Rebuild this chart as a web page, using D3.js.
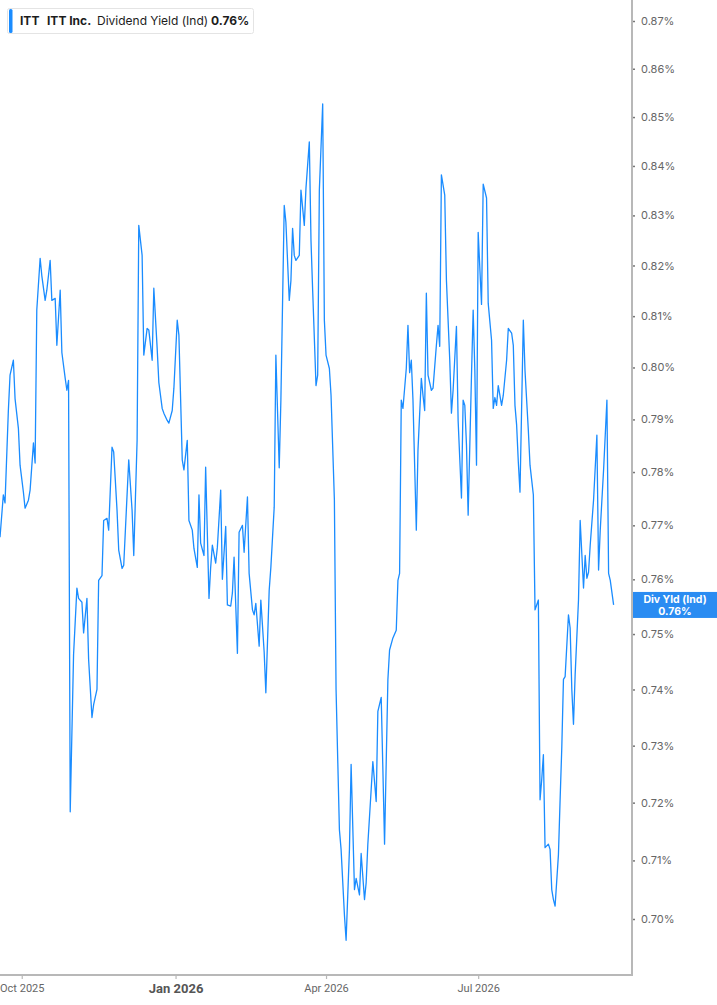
<!DOCTYPE html>
<html><head><meta charset="utf-8">
<script src="https://cdn.jsdelivr.net/npm/d3@7"></script>
<style>
body{margin:0;background:#fff;}
svg{display:block;font-family:Inter, Roboto, "Noto Sans", sans-serif;}
</style>
</head><body>
<svg id="chart" width="717" height="1005"></svg>
<script>
// ---- data ----
const ticker = "ITT";
const companyName = "ITT Inc.";
const seriesName = "Dividend Yield (Ind)";
const shortName = "Div Yld (Ind)";
const startDate = "2025-09-18";
const endDate = "2026-10-01";
// observation dates, in days since startDate
const daysSinceStart = [
  0,2,3,5,6,8,9,11,12,14,15,17,18,20,21,22,24,25,27,28,30,31,33,34,36,37,39,40,41,
  42,44,46,47,49,50,52,53,55,56,58,59,61,62,64,65,67,68,70,71,73,74,76,77,79,80,82,
  83,85,86,88,89,91,92,94,95,97,98,100,101,103,104,106,107,
  109,110,112,113,115,116,118,119,120,122,123,125,126,127,129,130,132,133,135,136,138,139,140,142,
  143,145,146,148,149,151,152,153,155,156,158,159,161,162,164,165,167,168,170,
  171,173,174,175,176,177,179,180,182,183,185,186,187,189,190,191,193,194,195,197,198,200,201,203,204,206,207,
  209,210,212,213,214,215,216,218,219,220,222,223,225,226,228,229,230,232,233,235,237,238,239,240,
  241,243,244,245,246,247,249,250,252,253,254,255,256,258,259,261,262,263,264,266,267,269,270,271,273,274,276,277,278,279,280,
  282,283,284,285,286,288,289,291,292,294,295,296,297,298,300,301,303,304,306,307,308,309,310,311,313,314,316,317,319,320,
  322,323,324,325,326,328,329,330,331,332,334,335,336,337,338,340,341,342,343,344,346,347,349,350,351,352,353,355,357,358,359,361,363,364,365,367
];
// dividend yield, % (one value per observation date)
const yieldValues = [
  0.7678,0.7757,0.7742,0.7917,0.7985,0.8014,0.7940,0.7883,0.7813,0.7762,
  0.7732,0.7747,0.7766,0.7855,0.7817,0.8112,0.8214,0.8180,0.8131,0.8151,
  0.8210,0.8131,0.8135,0.8043,0.8151,0.8029,0.7979,0.7956,0.7975,0.7184,
  0.7463,0.7584,0.7565,0.7558,0.7502,0.7565,0.7454,0.7350,0.7373,0.7400,
  0.7598,0.7607,0.7709,0.7713,0.7691,0.7847,0.7838,0.7728,0.7654,0.7620,
  0.7626,0.7757,0.7823,0.7728,0.7644,0.7860,0.8280,0.8220,0.8024,0.8076,
  0.8073,0.8014,0.8155,0.8037,0.7971,0.7921,0.7912,0.7898,0.7893,0.7917,
  0.7960,0.8092,0.8063,0.7823,0.7804,0.7860,0.7709,0.7691,0.7657,0.7622,
  0.7757,0.7667,0.7644,0.7809,0.7565,0.7622,0.7663,0.7630,0.7659,0.7766,
  0.7600,0.7698,0.7553,0.7551,0.7575,0.7641,0.7465,0.7687,0.7700,0.7650,
  0.7753,0.7611,0.7544,0.7535,0.7556,0.7478,0.7562,0.7467,0.7394,0.7580,
  0.7622,0.7734,0.8024,0.7808,0.7937,0.8320,0.8286,0.8131,0.8170,0.8274,
  0.8220,0.8210,0.8220,0.8351,0.8280,0.8355,0.8449,0.8250,0.8151,0.7965,
  0.7985,0.8351,0.8527,0.8092,0.8024,0.7998,0.7946,0.7747,0.7400,0.7153,
  0.7119,0.7007,0.6964,0.7119,0.7267,0.7050,0.7069,0.7055,0.7041,0.7112,
  0.7033,0.7062,0.7128,0.7223,0.7272,0.7202,0.7361,0.7386,0.7258,0.7128,
  0.7418,0.7471,0.7493,0.7507,0.7598,0.7611,0.7937,0.7921,0.7998,0.8082,
  0.7990,0.8014,0.7937,0.7691,0.7842,0.7979,0.7946,0.7917,0.8145,0.7985,
  0.7956,0.7960,0.8043,0.8082,0.8041,0.8382,0.8341,0.8171,0.8014,0.7912,
  0.7956,0.8080,0.7898,0.7751,0.7937,0.7927,0.7851,0.7719,0.7985,0.8112,
  0.7994,0.7813,0.8266,0.8123,0.8363,0.8335,0.8125,0.8053,0.7921,0.7942,
  0.7927,0.7965,0.7927,0.7946,0.8014,0.8076,0.8067,0.8043,0.7927,0.7889,
  0.7819,0.7762,0.8092,0.7994,0.7879,0.7813,0.7757,0.7544,0.7562,0.7205,
  0.7240,0.7284,0.7122,0.7128,0.7119,0.7050,0.7033,0.7022,0.7110,0.7205,
  0.7296,0.7418,0.7423,0.7535,0.7511,0.7400,0.7338,0.7427,0.7562,0.7709,
  0.7584,0.7644,0.7602,0.7613,0.7663,0.7747,0.7870,0.7617,0.7691,0.7804,
  0.7937,0.7611,0.7598,0.7553
];
const yTickValues = [0.70,0.71,0.72,0.73,0.74,0.75,0.76,0.77,0.78,0.79,0.80,0.81,0.82,0.83,0.84,0.85,0.86,0.87];
const xTickDates = ["2025-10-01","2026-01-01","2026-04-01","2026-07-01"];
const xTickLabels = ["Oct 2025","Jan 2026","Apr 2026","Jul 2026"];
const boldXTick = "Jan 2026";

const parse = d3.utcParse("%Y-%m-%d");
const fmtISO = d3.utcFormat("%Y-%m-%d");
const t0 = parse(startDate);
const data = yieldValues.map((v, i) => ({date: d3.utcDay.offset(t0, daysSinceStart[i]), v}));

// ---- layout ----
const W = 717, H = 1005;
const plotRight = 632, plotBottom = 975;
const axisColor = "#b8b8b8";
const lineColor = "#1a8cff";
const svg = d3.select("#chart");

const x = d3.scaleUtc().domain([t0, parse(endDate)]).range([0, plotRight]);
const y = d3.scaleLog().domain([0.70, 0.87]).range([919, 21]);

// line
svg.append("path")
  .datum(data)
  .attr("fill", "none")
  .attr("stroke", lineColor)
  .attr("stroke-width", 1.3)
  .attr("stroke-linejoin", "round")
  .attr("d", d3.line().x(d => x(d.date)).y(d => y(d.v)));

// right axis
const yAxis = svg.append("g")
  .attr("transform", `translate(${plotRight},0)`)
  .call(d3.axisRight(y).tickValues(yTickValues).tickFormat(d => d.toFixed(2) + "%").tickSize(3).tickPadding(6));
yAxis.select(".domain").remove();
yAxis.selectAll(".tick line").attr("stroke", "#777").attr("stroke-width", 1.5);
yAxis.selectAll(".tick text").attr("fill", "#666").style("font-size", "11px").style("font-family", "Inter, Roboto, sans-serif");

// bottom axis
const isBold = d => xTickLabels[xTickDates.indexOf(fmtISO(d))] === boldXTick;
const xAxis = svg.append("g")
  .attr("transform", `translate(0,${plotBottom})`)
  .call(d3.axisBottom(x).tickValues(xTickDates.map(parse))
    .tickFormat(d => xTickLabels[xTickDates.indexOf(fmtISO(d))]).tickSize(4).tickPadding(5));
xAxis.select(".domain").remove();
xAxis.selectAll(".tick line").attr("stroke", axisColor).attr("stroke-width", 1.2);
xAxis.selectAll(".tick text")
  .attr("fill", d => isBold(d) ? "#555" : "#666")
  .style("font-size", d => isBold(d) ? "13px" : "11px")
  .style("font-weight", d => isBold(d) ? "700" : "400")
  .style("font-family", "Roboto, Inter, sans-serif");

// frame lines
svg.append("line").attr("x1", plotRight).attr("x2", plotRight).attr("y1", 0).attr("y2", plotBottom + 1)
  .attr("stroke", axisColor).attr("stroke-width", 2);
svg.append("line").attr("x1", 0).attr("x2", plotRight + 1).attr("y1", plotBottom).attr("y2", plotBottom)
  .attr("stroke", axisColor).attr("stroke-width", 2);

// last value label
const last = data[data.length - 1];
const lastStr = d3.format(".2f")(last.v) + "%";
const bw = W - plotRight - 1;
const lbl = svg.append("g").attr("transform", `translate(${plotRight + 1},${y(last.v) - 13})`);
lbl.append("rect").attr("width", bw).attr("height", 26).attr("fill", "#2a8cf2");
lbl.append("text").attr("x", bw / 2).attr("y", 11).attr("text-anchor", "middle")
  .attr("fill", "#fff").style("font-size", "10.5px").style("font-weight", "700").text(shortName);
lbl.append("text").attr("x", bw / 2).attr("y", 23).attr("text-anchor", "middle")
  .attr("fill", "#fff").style("font-size", "10.5px").style("font-weight", "700").text(lastStr);

// legend
const leg = svg.append("g");
leg.append("rect").attr("x", 7.5).attr("y", 8.5).attr("width", 246).attr("height", 25).attr("rx", 2)
  .attr("fill", "#fff").attr("stroke", "#e4e4e4");
leg.append("rect").attr("x", 9).attr("y", 9).attr("width", 3.5).attr("height", 24).attr("rx", 1.5).attr("fill", lineColor);
const legItems = [
  {t: ticker, x: 20, w: 700},
  {t: companyName, x: 47, w: 700},
  {t: seriesName, x: 97, w: 400},
  {t: lastStr, x: 211, w: 700}
];
leg.selectAll("text.lg").data(legItems).join("text")
  .attr("class", "lg")
  .attr("x", d => d.x).attr("y", 25)
  .attr("fill", "#1c1c1c")
  .style("font-size", "12px")
  .style("font-weight", d => d.w)
  .text(d => d.t);
</script>
</body></html>
